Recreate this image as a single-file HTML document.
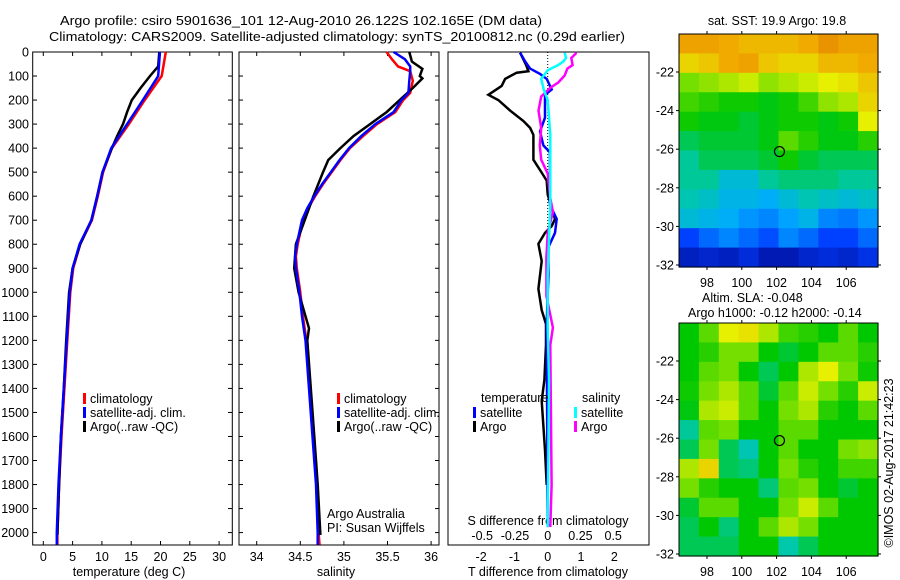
<!DOCTYPE html>
<html><head><meta charset="utf-8">
<style>
html,body{margin:0;padding:0;background:#fff;}
svg{display:block;font-family:"Liberation Sans",sans-serif;}
text{font-size:12.5px;fill:#000;}
</style></head>
<body>
<svg id="fig" width="900" height="580" viewBox="0 0 900 580" xmlns="http://www.w3.org/2000/svg">
<text x="60" y="25" textLength="482" lengthAdjust="spacingAndGlyphs">Argo profile: csiro 5901636_101 12-Aug-2010 26.122S 102.165E (DM data)</text>
<text x="49" y="41" textLength="576" lengthAdjust="spacingAndGlyphs">Climatology: CARS2009. Satellite-adjusted climatology: synTS_20100812.nc (0.29d earlier)</text>
<g id="p1"></g>
<g id="p2"></g>
<g id="p3"></g>
<g id="m1"></g>
<g id="m2"></g>
<text x="777" y="25" text-anchor="middle">sat. SST: 19.9 Argo: 19.8</text>
<text x="702" y="302">Altim. SLA: -0.048</text>
<text x="688" y="317">Argo h1000: -0.12 h2000: -0.14</text>
<text transform="translate(893,463) rotate(-90)" text-anchor="middle">©IMOS 02-Aug-2017 21:42:23</text>
</svg>
<script>
// ---------- data ----------
const tDepth = [0,100,200,300,400,500,600,700,800,900,1000,1200,1400,1600,1800,2000,2050];
const tClim  = [20.9,20.2,17.3,14.6,11.7,10.2,9.3,8.3,6.3,5.1,4.6,4.1,3.6,3.1,2.7,2.4,2.4];
const tSat   = [19.9,19.6,17.0,14.3,11.6,10.1,9.2,8.2,6.2,5.0,4.5,4.0,3.5,3.0,2.6,2.3,2.3];
const argoTDepth = [0,60,100,150,200,250,300,350,400,500,600,700,800,900,1000,1200,1400,1600,1800,2010];
const tArgo  = [19.8,19.6,18.2,16.6,15.1,14.3,13.6,12.6,11.7,10.1,9.2,8.2,6.3,5.0,4.4,3.9,3.5,3.0,2.7,2.4];

const sDepth = [0,30,60,80,120,170,200,250,300,350,400,450,500,550,600,650,700,750,800,850,900,1000,1100,1200,1400,1600,1800,2000,2050];
const sClim  = [35.49,35.55,35.62,35.76,35.79,35.76,35.68,35.59,35.38,35.22,35.07,34.96,34.86,34.76,34.67,34.59,34.53,34.50,34.47,34.45,34.46,34.50,34.53,34.57,34.61,34.65,34.69,34.71,34.72];
const sSat   = [35.57,35.70,35.76,35.76,35.75,35.74,35.66,35.57,35.36,35.20,35.06,34.95,34.85,34.75,34.66,34.58,34.52,34.49,34.46,34.44,34.45,34.49,34.52,34.56,34.60,34.64,34.68,34.70,34.70];
const argoSDepth = [0,40,70,100,110,150,200,250,300,350,400,450,500,600,700,800,900,1000,1150,1200,1400,1600,1800,2010];
const sArgo  = [35.75,35.78,35.90,35.87,35.90,35.79,35.64,35.49,35.30,35.11,34.96,34.82,34.76,34.65,34.55,34.45,34.43,34.48,34.60,34.58,34.62,34.66,34.70,34.73];

const dTArgoDepth = [3,54,80,86,112,141,178,200,244,287,316,345,448,491,535,593,695,724,753,798,870,986,1074,1132,1219,1365,1452,1656,1802];
const dTArgo = [-0.83,-0.65,-0.58,-0.93,-1.28,-1.38,-1.78,-1.48,-1.13,-0.73,-0.53,-0.43,-0.43,-0.23,-0.03,0,0.22,0.12,-0.08,-0.28,-0.18,-0.28,-0.18,-0.05,-0.05,-0.1,-0.18,-0.08,-0.03];
const dTSatDepth = [3,39,69,91,112,156,178,273,331,389,418,637,695,753,812,929,1132,1977];
const dTSat = [-0.83,-0.68,-0.53,-0.23,-0.03,0.12,-0.08,-0.08,-0.23,-0.13,0.07,0.07,0.27,0.22,0.02,0.02,-0.03,0];
const dSSatDepth = [3,25,39,54,76,112,156,200,345,637,783,929,1147,1365,1977];
const dSSat = [0.13,0.14,0.12,0.08,0,-0.05,-0.03,0,0.02,0.02,0.01,0,0,0.01,0];
const dSArgoDepth = [3,25,54,69,98,127,149,185,244,316,389,448,506,608,666,753,855,1015,1147,1219,1802,1977];
const dSArgo = [0.22,0.18,0.19,0.15,0.13,0.08,0.02,-0.05,-0.07,-0.05,-0.06,-0.05,0,0.02,0.04,0,-0.01,-0.01,0.04,0.02,0.03,0.02];

const depthTicks = [0,100,200,300,400,500,600,700,800,900,1000,1100,1200,1300,1400,1500,1600,1700,1800,1900,2000];
const tTicks = [0,5,10,15,20,25,30];
const sTicks = [34,34.5,35,35.5,36];
const sTickLabels = ["34","34.5","35","35.5","36"];
const dTTicks = [-2,-1,0,1,2];
const dSTicks = [-0.5,-0.25,0,0.25,0.5];
const dSTickLabels = ["-0.5","-0.25","0","0.25","0.5"];
const lonTicks = [98,100,102,104,106];
const latTicks = [-22,-24,-26,-28,-30,-32];

const sstGrid = [
[0.84,0.84,0.82,0.80,0.80,0.80,0.82,0.88,0.84,0.84],
[0.76,0.78,0.82,0.84,0.78,0.76,0.76,0.80,0.80,0.82],
[0.64,0.66,0.68,0.70,0.66,0.68,0.70,0.72,0.74,0.78],
[0.60,0.58,0.56,0.56,0.54,0.56,0.60,0.66,0.68,0.76],
[0.56,0.54,0.54,0.52,0.54,0.56,0.56,0.54,0.56,0.72],
[0.50,0.52,0.52,0.52,0.54,0.62,0.58,0.54,0.54,0.58],
[0.46,0.50,0.50,0.50,0.52,0.56,0.52,0.50,0.50,0.50],
[0.46,0.46,0.40,0.40,0.46,0.48,0.48,0.48,0.46,0.46],
[0.44,0.42,0.38,0.38,0.36,0.40,0.44,0.42,0.40,0.42],
[0.40,0.38,0.36,0.32,0.30,0.34,0.38,0.30,0.28,0.32],
[0.20,0.26,0.30,0.26,0.22,0.30,0.26,0.20,0.20,0.26],
[0.10,0.12,0.10,0.14,0.08,0.08,0.12,0.14,0.12,0.16]];
const slaGrid = [
[0.55,0.62,0.72,0.74,0.68,0.60,0.58,0.55,0.62,0.55],
[0.55,0.58,0.64,0.64,0.55,0.52,0.55,0.62,0.62,0.58],
[0.55,0.62,0.64,0.55,0.50,0.55,0.68,0.72,0.64,0.56],
[0.56,0.64,0.68,0.62,0.52,0.62,0.70,0.64,0.58,0.70],
[0.54,0.68,0.70,0.62,0.55,0.64,0.68,0.58,0.55,0.62],
[0.46,0.62,0.64,0.55,0.55,0.62,0.62,0.55,0.55,0.55],
[0.50,0.64,0.50,0.44,0.55,0.62,0.55,0.55,0.64,0.66],
[0.68,0.76,0.50,0.48,0.55,0.64,0.58,0.55,0.60,0.60],
[0.64,0.58,0.55,0.55,0.48,0.62,0.64,0.55,0.52,0.55],
[0.52,0.62,0.62,0.55,0.55,0.64,0.70,0.62,0.55,0.55],
[0.50,0.55,0.48,0.55,0.62,0.68,0.64,0.55,0.55,0.55],
[0.50,0.50,0.50,0.55,0.55,0.45,0.50,0.55,0.55,0.55]];
const argoLon = 102.165, argoLat = -26.122;

// ---------- helpers ----------
const NS = "http://www.w3.org/2000/svg";
function mk(parent, tag, attrs, txt){
  const e = document.createElementNS(NS, tag);
  for (const k in attrs) e.setAttribute(k, attrs[k]);
  if (txt !== undefined) e.textContent = txt;
  parent.appendChild(e); return e;
}
const TOP = 52, BOT = 545;
const yD = d => TOP + d*0.2403;
const xT = t => 43.3 + t*5.86;
const xS = s => 256.7 + (s-34)*87.2;
const xdT = t => 547.7 + t*33.3;
const xdS = s => 547.7 + s*131;

function line(parent, xs, ds, fx, color, name){
  const pts = xs.map((v,i)=> fx(v).toFixed(1)+","+yD(ds[i]).toFixed(1)).join(" ");
  const p = mk(parent, "polyline", {points:pts, fill:"none", stroke:color, "stroke-width":2.5, "stroke-linejoin":"miter"});
  
  
}
function box(parent, x0, x1, name){
  const r = mk(parent, "rect", {x:x0, y:TOP, width:x1-x0, height:BOT-TOP, fill:"none", stroke:"#000", "stroke-width":1});
  
  
}
function legend(parent, x, y, labels, colors, prefix){
  labels.forEach((lab,i)=>{
    const m = mk(parent, "rect", {x:x, y:y+i*14-10, width:3, height:11, fill:colors[i]});
    
    
    const t = mk(parent, "text", {x:x+7, y:y+i*14}, lab);
    
    
  });
}

// ---------- panel 1 ----------
const p1 = document.getElementById("p1");
box(p1, 32.7, 232.3, "temperature-axes-box");
depthTicks.forEach(d=>{
  mk(p1,"line",{x1:32.7,x2:37,y1:yD(d),y2:yD(d),stroke:"#000"});
  mk(p1,"line",{x1:228,x2:232.3,y1:yD(d),y2:yD(d),stroke:"#000"});
  const t = mk(p1,"text",{x:29,y:yD(d)+4.5,"text-anchor":"end"}, String(d));
  
  
});
tTicks.forEach(v=>{
  mk(p1,"line",{x1:xT(v),x2:xT(v),y1:TOP,y2:TOP+4,stroke:"#000"});
  mk(p1,"line",{x1:xT(v),x2:xT(v),y1:BOT-4,y2:BOT,stroke:"#000"});
  const t = mk(p1,"text",{x:xT(v),y:561,"text-anchor":"middle"}, String(v));
  
  
});
{const t = mk(p1,"text",{x:129,y:576,"text-anchor":"middle"},"temperature (deg C)");

}
line(p1, tClim, tDepth, xT, "#ff0000", "temperature-climatology-line");
line(p1, tArgo, argoTDepth, xT, "#000000", "temperature-argo-line");
line(p1, tSat, tDepth, xT, "#0000ff", "temperature-satellite-line");
legend(p1, 83, 403, ["climatology","satellite-adj. clim.","Argo(..raw -QC)"], ["#ff0000","#0000ff","#000"], "temperature-legend");

// ---------- panel 2 ----------
const p2 = document.getElementById("p2");
box(p2, 239, 439, "salinity-axes-box");
depthTicks.forEach(d=>{
  mk(p2,"line",{x1:239,x2:243,y1:yD(d),y2:yD(d),stroke:"#000"});
  mk(p2,"line",{x1:435,x2:439,y1:yD(d),y2:yD(d),stroke:"#000"});
});
sTicks.forEach((v,i)=>{
  mk(p2,"line",{x1:xS(v),x2:xS(v),y1:TOP,y2:TOP+4,stroke:"#000"});
  mk(p2,"line",{x1:xS(v),x2:xS(v),y1:BOT-4,y2:BOT,stroke:"#000"});
  const t = mk(p2,"text",{x:xS(v),y:561,"text-anchor":"middle"}, sTickLabels[i]);
  
  
});
{const t = mk(p2,"text",{x:336,y:576,"text-anchor":"middle"},"salinity");

}
line(p2, sClim, sDepth, xS, "#ff0000", "salinity-climatology-line");
line(p2, sArgo, argoSDepth, xS, "#000000", "salinity-argo-line");
line(p2, sSat, sDepth, xS, "#0000ff", "salinity-satellite-line");
legend(p2, 337, 403, ["climatology","satellite-adj. clim.","Argo(..raw -QC)"], ["#ff0000","#0000ff","#000"], "salinity-legend");
{const t = mk(p2,"text",{x:327,y:518},"Argo Australia");


const t2 = mk(p2,"text",{x:327,y:532},"PI: Susan Wijffels");

}

// ---------- panel 3 ----------
const p3 = document.getElementById("p3");
box(p3, 448, 649, "difference-axes-box");
mk(p3,"line",{x1:547.7,x2:547.7,y1:TOP,y2:230,stroke:"#000","stroke-dasharray":"1,2"});
dTTicks.forEach(v=>{
  const t = mk(p3,"text",{x:xdT(v),y:561,"text-anchor":"middle"}, String(v));
  
  
});
dSTicks.forEach((v,i)=>{
  const t = mk(p3,"text",{x:xdS(v),y:540,"text-anchor":"middle"}, dSTickLabels[i]);
  
  
});
{const t = mk(p3,"text",{x:548,y:576,"text-anchor":"middle"},"T difference from climatology");


const t2 = mk(p3,"text",{x:548,y:525,"text-anchor":"middle"},"S difference from climatology");

}
line(p3, dTArgo, dTArgoDepth, xdT, "#000000", "t-difference-argo-line");
line(p3, dTSat, dTSatDepth, xdT, "#0000ff", "t-difference-satellite-line");
line(p3, dSArgo, dSArgoDepth, xdS, "#ff00ff", "s-difference-argo-line");
line(p3, dSSat, dSSatDepth, xdS, "#00ffff", "s-difference-satellite-line");
{const t = mk(p3,"text",{x:481,y:402},"temperature");


const t2 = mk(p3,"text",{x:582,y:402},"salinity");

}
legend(p3, 473, 417, ["satellite","Argo"], ["#0000ff","#000"], "t-diff-legend");
legend(p3, 574, 417, ["satellite","Argo"], ["#00ffff","#ff00ff"], "s-diff-legend");

// ---------- maps ----------
const cmapStops = [0,0.2,0.35,0.45,0.55,0.65,0.72,0.82,1];
const cmapColors = [[0,0,128],[0,64,255],[0,170,255],[0,200,170],[0,200,0],[130,225,0],[230,240,0],[240,170,0],[220,100,0]];
function cmap(v){
  for (let i=0;i<cmapStops.length-1;i++){
    if (v<=cmapStops[i+1]){
      const f=(v-cmapStops[i])/(cmapStops[i+1]-cmapStops[i]);
      const a=cmapColors[i], b=cmapColors[i+1];
      return "rgb("+a.map((c,k)=>Math.round(c+(b[k]-c)*Math.max(0,f))).join(",")+")";
    }
  }
  return "rgb("+cmapColors[cmapColors.length-1].join(",")+")";
}
function drawMap(id, grid, top, name){
  const g = document.getElementById(id);
  const L = 679, R = 878, T = top, B = top+233;
  const lonX = lon => 707 + (lon-98)*17.4;
  const latY = lat => T + 38 + (-22-lat)*19.3;
  const rows = grid.length, cols = grid[0].length;
  const cw = (R-L)/cols, ch = (B-T)/rows;
  grid.forEach((row,i)=>row.forEach((v,j)=>{
    const c = mk(g,"rect",{x:(L+j*cw).toFixed(2),y:(T+i*ch).toFixed(2),width:(cw+0.6).toFixed(2),height:(ch+0.6).toFixed(2),fill:cmap(v)});
    
    
  }));
  const r = mk(g,"rect",{x:L,y:T,width:R-L,height:B-T,fill:"none",stroke:"#000"});
  
  
  lonTicks.forEach(lon=>{
    mk(g,"line",{x1:lonX(lon),x2:lonX(lon),y1:T-3,y2:T,stroke:"#000"});
    mk(g,"line",{x1:lonX(lon),x2:lonX(lon),y1:B,y2:B+3,stroke:"#000"});
    const t = mk(g,"text",{x:lonX(lon),y:B+20,"text-anchor":"middle"}, String(lon));
    
    
  });
  latTicks.forEach(lat=>{
    mk(g,"line",{x1:L-3,x2:L,y1:latY(lat),y2:latY(lat),stroke:"#000"});
    mk(g,"line",{x1:R,x2:R+3,y1:latY(lat),y2:latY(lat),stroke:"#000"});
    const t = mk(g,"text",{x:L-5,y:latY(lat)+4.5,"text-anchor":"end"}, String(lat));
    
    
  });
  const c = mk(g,"circle",{cx:lonX(argoLon),cy:latY(argoLat),r:5,fill:"none",stroke:"#000","stroke-width":1.2});
  
  
}
drawMap("m1", sstGrid, 34, "sst-map");
drawMap("m2", slaGrid, 323, "sla-map");
</script>
</body></html>
